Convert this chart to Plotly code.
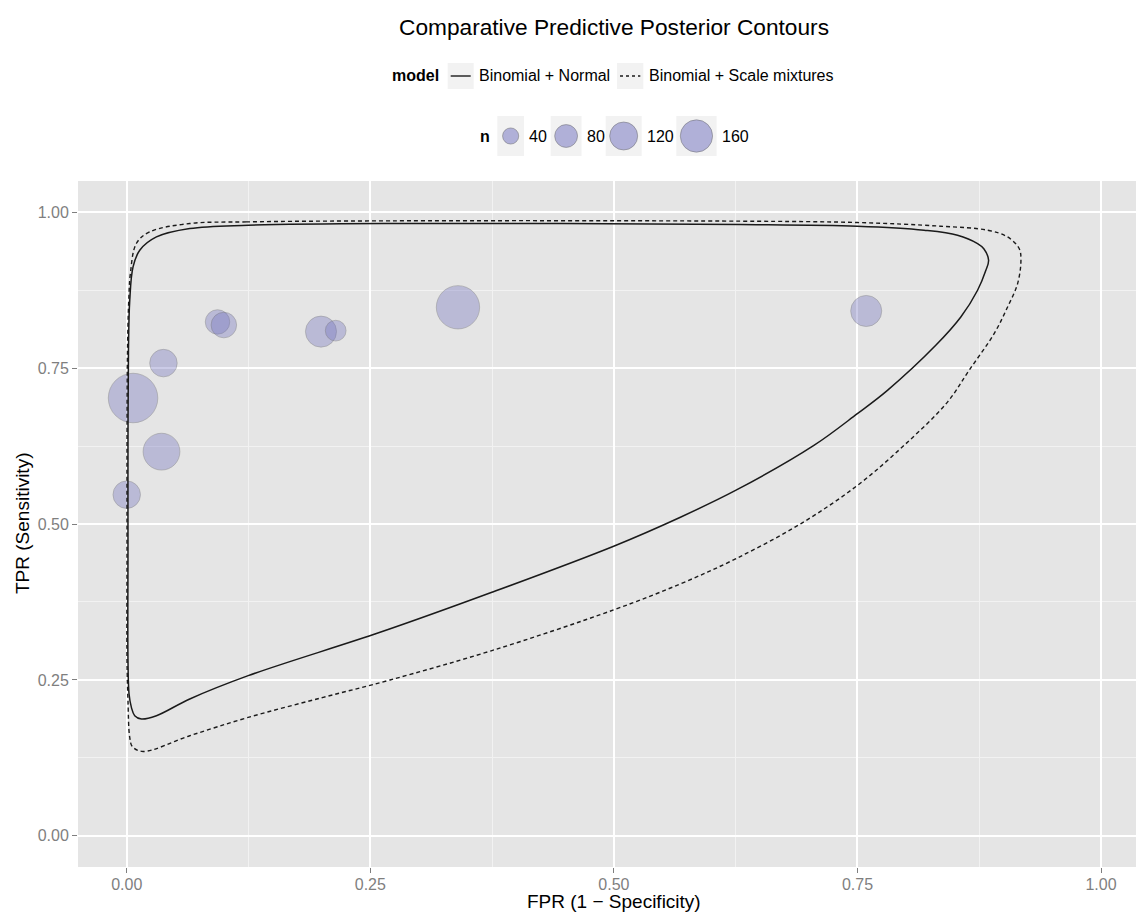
import plotly.graph_objects as go

# ---------------- data ----------------
TITLE = "Comparative Predictive Posterior Contours"
X_TITLE = "FPR (1 − Specificity)"
Y_TITLE = "TPR (Sensitivity)"
MODEL_TITLE = "model"
SIZE_TITLE = "n"
MODEL_LABELS = ["Binomial + Normal", "Binomial + Scale mixtures"]
SIZE_BREAKS = [40, 80, 120, 160]
TICK_VALS = [0.0, 0.25, 0.5, 0.75, 1.0]
TICK_TEXT = ["0.00", "0.25", "0.50", "0.75", "1.00"]

study_fpr = [0.0932, 0.0997, 0.1994, 0.2145, 0.0377, 0.0065, 0.0357, 0.0000, 0.7590, 0.3400]
study_tpr = [0.8240, 0.8190, 0.8085, 0.8100, 0.7580, 0.7020, 0.6160, 0.5470, 0.8416, 0.8475]
study_n = [46, 50, 74, 33, 58, 188, 104, 58, 74, 144]

normal_fpr = [0.2703, 0.1247, 0.0647, 0.0305, 0.0134, 0.0065, 0.0031, 0.0018, 0.0013, 0.0013,
              0.0013, 0.0024, 0.0048, 0.0082, 0.0151, 0.0305, 0.0647, 0.1247, 0.2600, 0.3748,
              0.4998, 0.5683, 0.6249, 0.7053, 0.7499, 0.7808, 0.8304, 0.8561, 0.8733, 0.8818,
              0.8846, 0.8797, 0.8733, 0.8527, 0.8184, 0.7499, 0.6300, 0.2703]
normal_tpr = [0.9818, 0.9791, 0.9738, 0.9603, 0.9390, 0.9122, 0.8583, 0.7785, 0.6180, 0.4575,
              0.2809, 0.2274, 0.2059, 0.1926, 0.1873, 0.1926, 0.2194, 0.2568, 0.3263, 0.3905,
              0.4644, 0.5109, 0.5538, 0.6260, 0.6769, 0.7143, 0.7865, 0.8319, 0.8748, 0.9069,
              0.9230, 0.9414, 0.9497, 0.9631, 0.9711, 0.9775, 0.9802, 0.9818]

mixture_fpr = [0.2703, 0.1230, 0.0647, 0.0236, 0.0100, 0.0038, 0.0021, 0.0008, 0.0003, 0.0003,
               0.0003, 0.0013, 0.0031, 0.0059, 0.0168, 0.0647, 0.1247, 0.2017, 0.2703, 0.3748,
               0.4998, 0.5683, 0.6249, 0.6917, 0.7499, 0.7978, 0.8424, 0.8646, 0.8903, 0.9041,
               0.9144, 0.9178, 0.9160, 0.9041, 0.8836, 0.8356, 0.7499, 0.6300, 0.2703]
mixture_tpr = [0.9861, 0.9844, 0.9818, 0.9684, 0.9502, 0.9021, 0.8587, 0.7785, 0.6180, 0.4575,
               0.2809, 0.2167, 0.1578, 0.1429, 0.1353, 0.1605, 0.1899, 0.2220, 0.2499, 0.2970,
               0.3623, 0.4040, 0.4441, 0.5003, 0.5618, 0.6260, 0.6955, 0.7464, 0.8053, 0.8480,
               0.8855, 0.9230, 0.9417, 0.9603, 0.9711, 0.9775, 0.9834, 0.9856, 0.9861]

# ---------------- styling ----------------
FONT = "Liberation Sans, Arial, Helvetica, sans-serif"
W, H = 1136, 914
ML, MR, MT, MB = 78, 0, 181, 47
SIZEREF = 0.1534
BUBBLE_FILL = "rgba(110,110,190,0.5)"
BUBBLE_LINE = "rgba(110,110,110,0.5)"
LINE_COLOR = "#1a1a1a"
DASH = "4px,3px"
KEY_BG = "#F2F2F2"
LEG_SIZE = 16
AXIS_TITLE_SIZE = 19

plot_w = W - ML - MR
plot_h = H - MT - MB


def px_x(p):
    return (p - ML) / plot_w


def px_y(p):
    return (H - MB - p) / plot_h


fig = go.Figure()

fig.add_trace(go.Scatter(
    x=study_fpr, y=study_tpr, mode="markers",
    marker=dict(size=study_n, sizemode="area", sizeref=SIZEREF,
                color=BUBBLE_FILL, line=dict(color=BUBBLE_LINE, width=1)),
    showlegend=False, hoverinfo="skip"))

fig.add_trace(go.Scatter(
    x=normal_fpr, y=normal_tpr, mode="lines",
    line=dict(color=LINE_COLOR, width=1.5, shape="spline", smoothing=1.0),
    showlegend=False, hoverinfo="skip"))

fig.add_trace(go.Scatter(
    x=mixture_fpr, y=mixture_tpr, mode="lines",
    line=dict(color=LINE_COLOR, width=1.4, dash=DASH, shape="spline", smoothing=1.0),
    showlegend=False, hoverinfo="skip"))

axis_common = dict(
    tickvals=TICK_VALS, ticktext=TICK_TEXT,
    showgrid=True, gridcolor="white", gridwidth=1.6,
    zeroline=False, showline=False,
    ticks="outside", ticklen=5, tickwidth=1, tickcolor="#7F7F7F",
    tickfont=dict(family=FONT, size=16, color="#7F7F7F"),
    minor=dict(tick0=0.125, dtick=0.25, showgrid=True, gridcolor="#F2F2F2", gridwidth=0.8),
)

fig.update_layout(
    width=W, height=H,
    margin=dict(l=ML, r=MR, t=MT, b=MB, pad=0),
    paper_bgcolor="white", plot_bgcolor="#E5E5E5",
    font=dict(family=FONT, color="black"),
    xaxis=dict(range=[-0.05, 1.0359], ticklabelstandoff=-2, **axis_common),
    yaxis=dict(range=[-0.05, 1.05], **axis_common),
    showlegend=False,
)

annotations = []
shapes = []

# title
annotations.append(dict(text=TITLE, x=px_x(613.5), y=px_y(27), xref="paper", yref="paper",
                        xanchor="center", yanchor="middle", showarrow=False,
                        font=dict(family=FONT, size=22.7, color="black")))
# axis titles
annotations.append(dict(text=X_TITLE, x=px_x(613.5), y=px_y(901.5), xref="paper", yref="paper",
                        xanchor="center", yanchor="middle", showarrow=False,
                        font=dict(family=FONT, size=AXIS_TITLE_SIZE, color="black")))
annotations.append(dict(text=Y_TITLE, x=px_x(22), y=0.5, xref="paper", yref="paper",
                        xanchor="center", yanchor="middle", showarrow=False, textangle=-90,
                        font=dict(family=FONT, size=AXIS_TITLE_SIZE, color="black")))

# ---- model legend ----
ROW1 = 76
annotations.append(dict(text="<b>%s</b>" % MODEL_TITLE, x=px_x(390), y=px_y(ROW1),
                        xref="paper", yref="paper", xanchor="left", yanchor="middle",
                        showarrow=False, font=dict(family=FONT, size=LEG_SIZE, color="black")))
model_keys = [(447.7, 473.7, 476.5, None), (617.0, 643.3, 646.5, DASH)]
for (k0, k1, tx, dash), lab in zip(model_keys, MODEL_LABELS):
    shapes.append(dict(type="rect", xref="paper", yref="paper",
                       x0=px_x(k0), x1=px_x(k1), y0=px_y(ROW1 + 13), y1=px_y(ROW1 - 13),
                       fillcolor=KEY_BG, line=dict(width=0), layer="above"))
    ln = dict(color=LINE_COLOR, width=1.4)
    if dash:
        ln["dash"] = "3px,3px"
    shapes.append(dict(type="line", xref="paper", yref="paper",
                       x0=px_x(k0 + 3), x1=px_x(k1 - 3), y0=px_y(ROW1), y1=px_y(ROW1),
                       line=ln, layer="above"))
    annotations.append(dict(text=lab, x=px_x(tx), y=px_y(ROW1), xref="paper", yref="paper",
                            xanchor="left", yanchor="middle", showarrow=False,
                            font=dict(family=FONT, size=LEG_SIZE, color="black")))

# ---- size legend ----
ROW2 = 136
annotations.append(dict(text="<b>%s</b>" % SIZE_TITLE, x=px_x(477.5), y=px_y(ROW2),
                        xref="paper", yref="paper", xanchor="left", yanchor="middle",
                        showarrow=False, font=dict(family=FONT, size=LEG_SIZE, color="black")))
size_key_left = [497.3, 550.7, 605.7, 676.3]
for left, n in zip(size_key_left, SIZE_BREAKS):
    d = (n / SIZEREF) ** 0.5
    kw = max(26.7, d + 8)
    cx = left + kw / 2
    shapes.append(dict(type="rect", xref="paper", yref="paper",
                       x0=px_x(left), x1=px_x(left + kw), y0=px_y(ROW2 + 20), y1=px_y(ROW2 - 20),
                       fillcolor=KEY_BG, line=dict(width=0), layer="above"))
    shapes.append(dict(type="circle", xref="paper", yref="paper",
                       xsizemode="pixel", ysizemode="pixel",
                       xanchor=px_x(cx), yanchor=px_y(ROW2),
                       x0=-d / 2, x1=d / 2, y0=-d / 2, y1=d / 2,
                       fillcolor=BUBBLE_FILL, line=dict(color=BUBBLE_LINE, width=1), layer="above"))
    annotations.append(dict(text=str(n), x=px_x(left + kw + 3), y=px_y(ROW2),
                            xref="paper", yref="paper", xanchor="left", yanchor="middle",
                            showarrow=False, font=dict(family=FONT, size=LEG_SIZE, color="black")))

fig.update_layout(annotations=annotations, shapes=shapes)

fig.write_html("out.html")
